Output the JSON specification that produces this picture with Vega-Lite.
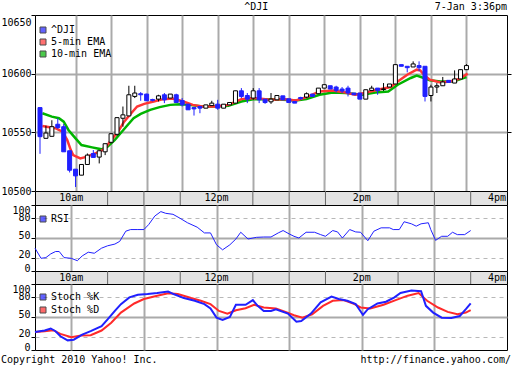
{
  "$schema": "https://vega.github.io/schema/vega-lite/v6.json",
  "padding": 0,
  "background": "white",
  "title": {"text": "^DJI", "anchor": "middle", "offset": -12, "font": "DejaVu Sans Mono", "fontSize": 10, "fontWeight": "normal", "color": "black"},
  "spacing": 0,
  "bounds": "flush",
  "datasets": {
    "candles": [
      {"m":0,"o":10571.1,"h":10571.1,"l":10531.7,"c":10546.3},
      {"m":5,"o":10544.9,"h":10555.7,"l":10544.9,"c":10549.4},
      {"m":10,"o":10546.6,"h":10560.3,"l":10546.6,"c":10554.8},
      {"m":15,"o":10556.9,"h":10562.0,"l":10552.9,"c":10554.0},
      {"m":20,"o":10554.8,"h":10557.1,"l":10533.4,"c":10533.4},
      {"m":25,"o":10534.3,"h":10534.3,"l":10515.8,"c":10517.7},
      {"m":30,"o":10518.6,"h":10518.6,"l":10503.4,"c":10512.9},
      {"m":35,"o":10513.5,"h":10522.6,"l":10513.5,"c":10522.6},
      {"m":40,"o":10522.6,"h":10532.0,"l":10522.6,"c":10530.6},
      {"m":45,"o":10532.0,"h":10534.9,"l":10528.6,"c":10528.6},
      {"m":50,"o":10528.9,"h":10534.3,"l":10523.5,"c":10534.3},
      {"m":55,"o":10533.4,"h":10540.3,"l":10530.6,"c":10540.3},
      {"m":60,"o":10541.5,"h":10549.5,"l":10540.5,"c":10548.8},
      {"m":65,"o":10548.3,"h":10563.0,"l":10547.0,"c":10562.5},
      {"m":70,"o":10562.0,"h":10572.0,"l":10554.8,"c":10564.9},
      {"m":75,"o":10564.0,"h":10589.7,"l":10564.0,"c":10582.0},
      {"m":80,"o":10580.6,"h":10589.7,"l":10579.2,"c":10583.5},
      {"m":85,"o":10582.9,"h":10584.3,"l":10576.9,"c":10582.0},
      {"m":90,"o":10582.6,"h":10582.9,"l":10576.9,"c":10576.9},
      {"m":95,"o":10578.0,"h":10578.6,"l":10576.3,"c":10577.2},
      {"m":100,"o":10578.3,"h":10582.0,"l":10576.3,"c":10581.1},
      {"m":105,"o":10582.0,"h":10583.5,"l":10574.9,"c":10577.7},
      {"m":110,"o":10579.2,"h":10582.6,"l":10579.2,"c":10582.6},
      {"m":115,"o":10582.0,"h":10582.9,"l":10575.4,"c":10575.4},
      {"m":120,"o":10577.1,"h":10579.2,"l":10572.0,"c":10573.4},
      {"m":125,"o":10574.0,"h":10574.3,"l":10569.2,"c":10569.2},
      {"m":130,"o":10571.1,"h":10571.1,"l":10564.3,"c":10570.0},
      {"m":135,"o":10572.0,"h":10572.6,"l":10566.3,"c":10570.6},
      {"m":140,"o":10570.6,"h":10573.4,"l":10570.6,"c":10573.4},
      {"m":145,"o":10572.8,"h":10576.9,"l":10572.8,"c":10574.9},
      {"m":150,"o":10574.0,"h":10577.7,"l":10569.2,"c":10570.6},
      {"m":155,"o":10570.6,"h":10574.0,"l":10570.6,"c":10574.0},
      {"m":160,"o":10573.4,"h":10575.4,"l":10573.4,"c":10575.4},
      {"m":165,"o":10574.9,"h":10585.4,"l":10574.9,"c":10585.4},
      {"m":170,"o":10585.4,"h":10587.7,"l":10579.2,"c":10580.6},
      {"m":175,"o":10581.4,"h":10583.5,"l":10574.9,"c":10578.3},
      {"m":180,"o":10579.2,"h":10587.7,"l":10577.7,"c":10585.4},
      {"m":185,"o":10585.4,"h":10587.7,"l":10574.9,"c":10577.7},
      {"m":190,"o":10578.3,"h":10578.3,"l":10574.3,"c":10575.4},
      {"m":195,"o":10576.0,"h":10583.5,"l":10574.3,"c":10578.3},
      {"m":200,"o":10577.7,"h":10581.4,"l":10577.7,"c":10581.4},
      {"m":205,"o":10581.1,"h":10581.1,"l":10577.7,"c":10577.7},
      {"m":210,"o":10578.6,"h":10578.6,"l":10575.4,"c":10575.4},
      {"m":215,"o":10576.3,"h":10576.3,"l":10574.9,"c":10574.9},
      {"m":220,"o":10579.7,"h":10580.3,"l":10577.7,"c":10578.6},
      {"m":225,"o":10580.0,"h":10584.0,"l":10579.2,"c":10582.9},
      {"m":230,"o":10582.6,"h":10582.6,"l":10580.6,"c":10580.6},
      {"m":235,"o":10582.9,"h":10587.7,"l":10582.9,"c":10587.7},
      {"m":240,"o":10587.7,"h":10590.6,"l":10587.7,"c":10590.6},
      {"m":245,"o":10589.7,"h":10589.7,"l":10586.9,"c":10586.9},
      {"m":250,"o":10588.6,"h":10589.7,"l":10584.0,"c":10585.7},
      {"m":255,"o":10586.9,"h":10588.6,"l":10583.5,"c":10585.2},
      {"m":260,"o":10587.7,"h":10589.7,"l":10580.6,"c":10583.5},
      {"m":265,"o":10583.5,"h":10583.5,"l":10582.0,"c":10582.0},
      {"m":270,"o":10583.5,"h":10583.5,"l":10578.3,"c":10578.3},
      {"m":275,"o":10578.3,"h":10586.3,"l":10578.3,"c":10586.3},
      {"m":280,"o":10585.7,"h":10589.7,"l":10585.7,"c":10587.7},
      {"m":285,"o":10587.7,"h":10587.7,"l":10582.0,"c":10585.7},
      {"m":290,"o":10586.5,"h":10592.0,"l":10585.3,"c":10587.0},
      {"m":295,"o":10588.6,"h":10591.2,"l":10588.6,"c":10591.2},
      {"m":300,"o":10591.2,"h":10607.7,"l":10591.2,"c":10607.7},
      {"m":305,"o":10607.7,"h":10607.7,"l":10606.3,"c":10606.3},
      {"m":310,"o":10606.3,"h":10606.3,"l":10601.1,"c":10605.1},
      {"m":315,"o":10605.7,"h":10610.5,"l":10605.7,"c":10608.3},
      {"m":320,"o":10606.9,"h":10610.5,"l":10602.0,"c":10605.1},
      {"m":325,"o":10606.3,"h":10606.3,"l":10576.3,"c":10580.6},
      {"m":330,"o":10581.4,"h":10590.6,"l":10576.3,"c":10588.6},
      {"m":335,"o":10588.6,"h":10592.0,"l":10583.5,"c":10589.7},
      {"m":340,"o":10589.7,"h":10597.2,"l":10589.7,"c":10592.9},
      {"m":345,"o":10594.3,"h":10594.3,"l":10592.5,"c":10592.5},
      {"m":350,"o":10592.0,"h":10602.8,"l":10592.0,"c":10595.5},
      {"m":355,"o":10595.5,"h":10603.4,"l":10595.5,"c":10603.4},
      {"m":360,"o":10603.4,"h":10608.1,"l":10603.4,"c":10606.9}
    ],
    "ema": [
      {"s":"10-min EMA","m":2,"p":10566.3},{"s":"10-min EMA","m":10,"p":10563.4},{"s":"10-min EMA","m":16,"p":10562.0},{"s":"10-min EMA","m":20,"p":10559.1},{"s":"10-min EMA","m":24,"p":10552.0},{"s":"10-min EMA","m":30,"p":10544.9},{"s":"10-min EMA","m":35,"p":10539.2},{"s":"10-min EMA","m":44,"p":10537.2},{"s":"10-min EMA","m":52,"p":10535.5},{"s":"10-min EMA","m":57,"p":10537.7},{"s":"10-min EMA","m":63,"p":10543.4},{"s":"10-min EMA","m":68,"p":10549.2},{"s":"10-min EMA","m":74,"p":10556.3},{"s":"10-min EMA","m":79,"p":10562.0},{"s":"10-min EMA","m":85,"p":10565.7},{"s":"10-min EMA","m":93,"p":10569.1},{"s":"10-min EMA","m":101,"p":10571.5},{"s":"10-min EMA","m":110,"p":10573.4},{"s":"10-min EMA","m":118,"p":10574.0},{"s":"10-min EMA","m":126,"p":10573.4},{"s":"10-min EMA","m":137,"p":10572.0},{"s":"10-min EMA","m":148,"p":10572.0},{"s":"10-min EMA","m":159,"p":10572.6},{"s":"10-min EMA","m":170,"p":10576.3},{"s":"10-min EMA","m":181,"p":10578.3},{"s":"10-min EMA","m":194,"p":10578.3},{"s":"10-min EMA","m":205,"p":10577.7},{"s":"10-min EMA","m":216,"p":10577.1},{"s":"10-min EMA","m":225,"p":10578.3},{"s":"10-min EMA","m":236,"p":10582.0},{"s":"10-min EMA","m":247,"p":10584.0},{"s":"10-min EMA","m":258,"p":10583.5},{"s":"10-min EMA","m":272,"p":10582.0},{"s":"10-min EMA","m":283,"p":10584.0},{"s":"10-min EMA","m":294,"p":10584.8},{"s":"10-min EMA","m":302,"p":10590.6},{"s":"10-min EMA","m":313,"p":10596.3},{"s":"10-min EMA","m":318,"p":10598.3},{"s":"10-min EMA","m":324,"p":10596.3},{"s":"10-min EMA","m":329,"p":10594.3},{"s":"10-min EMA","m":338,"p":10593.4},{"s":"10-min EMA","m":349,"p":10593.4},{"s":"10-min EMA","m":360,"p":10597.2},
      {"s":"5-min EMA","m":2,"p":10555.4},{"s":"5-min EMA","m":13,"p":10553.5},{"s":"5-min EMA","m":19,"p":10550.6},{"s":"5-min EMA","m":23,"p":10543.4},{"s":"5-min EMA","m":26,"p":10534.9},{"s":"5-min EMA","m":28,"p":10530.6},{"s":"5-min EMA","m":34,"p":10527.8},{"s":"5-min EMA","m":39,"p":10529.1},{"s":"5-min EMA","m":45,"p":10531.4},{"s":"5-min EMA","m":50,"p":10533.4},{"s":"5-min EMA","m":55,"p":10536.3},{"s":"5-min EMA","m":60,"p":10543.4},{"s":"5-min EMA","m":66,"p":10550.6},{"s":"5-min EMA","m":71,"p":10559.1},{"s":"5-min EMA","m":77,"p":10566.3},{"s":"5-min EMA","m":82,"p":10572.0},{"s":"5-min EMA","m":88,"p":10574.3},{"s":"5-min EMA","m":96,"p":10576.3},{"s":"5-min EMA","m":104,"p":10578.3},{"s":"5-min EMA","m":112,"p":10578.8},{"s":"5-min EMA","m":121,"p":10576.3},{"s":"5-min EMA","m":129,"p":10573.4},{"s":"5-min EMA","m":137,"p":10572.0},{"s":"5-min EMA","m":148,"p":10572.0},{"s":"5-min EMA","m":159,"p":10573.4},{"s":"5-min EMA","m":170,"p":10578.3},{"s":"5-min EMA","m":181,"p":10579.2},{"s":"5-min EMA","m":194,"p":10577.7},{"s":"5-min EMA","m":205,"p":10578.3},{"s":"5-min EMA","m":216,"p":10577.1},{"s":"5-min EMA","m":225,"p":10580.0},{"s":"5-min EMA","m":236,"p":10584.8},{"s":"5-min EMA","m":247,"p":10585.7},{"s":"5-min EMA","m":258,"p":10584.0},{"s":"5-min EMA","m":266,"p":10582.0},{"s":"5-min EMA","m":274,"p":10583.5},{"s":"5-min EMA","m":285,"p":10586.3},{"s":"5-min EMA","m":296,"p":10588.6},{"s":"5-min EMA","m":302,"p":10593.4},{"s":"5-min EMA","m":310,"p":10599.1},{"s":"5-min EMA","m":318,"p":10603.4},{"s":"5-min EMA","m":321,"p":10602.8},{"s":"5-min EMA","m":324,"p":10599.1},{"s":"5-min EMA","m":329,"p":10594.9},{"s":"5-min EMA","m":338,"p":10592.5},{"s":"5-min EMA","m":346,"p":10593.4},{"s":"5-min EMA","m":354,"p":10595.5},{"s":"5-min EMA","m":361,"p":10600.0}
    ],
    "rsi": [
      {"m":0,"v":34.6},{"m":5,"v":19.2},{"m":9,"v":20.3},{"m":13,"v":25.9},{"m":17,"v":29.5},{"m":20,"v":29.5},{"m":24,"v":20.3},{"m":30,"v":19.2},{"m":35,"v":15.6},{"m":39,"v":22.8},{"m":44,"v":28.5},{"m":49,"v":26.9},{"m":55,"v":34.6},{"m":60,"v":38.2},{"m":66,"v":40.8},{"m":70,"v":44.9},{"m":75,"v":60.3},{"m":79,"v":62.8},{"m":85,"v":62.8},{"m":90,"v":62.8},{"m":94,"v":70.5},{"m":99,"v":83.3},{"m":104,"v":90},{"m":108,"v":87.4},{"m":114,"v":85.9},{"m":119,"v":80.8},{"m":126,"v":73.1},{"m":134,"v":66.4},{"m":140,"v":57.7},{"m":145,"v":57.7},{"m":150,"v":39.7},{"m":155,"v":32.1},{"m":161,"v":39.7},{"m":166,"v":48.5},{"m":170,"v":58.7},{"m":176,"v":48.5},{"m":183,"v":51},{"m":189,"v":51.5},{"m":195,"v":51.5},{"m":201,"v":57.7},{"m":205,"v":61.3},{"m":210,"v":56.2},{"m":214,"v":52.6},{"m":218,"v":50},{"m":224,"v":58.7},{"m":231,"v":58.7},{"m":236,"v":55.1},{"m":240,"v":52.6},{"m":246,"v":61.3},{"m":250,"v":59.2},{"m":254,"v":50},{"m":260,"v":62.8},{"m":265,"v":59.2},{"m":269,"v":58.7},{"m":275,"v":45.9},{"m":280,"v":60.3},{"m":286,"v":65.4},{"m":293,"v":65.4},{"m":296,"v":62.8},{"m":301,"v":62.8},{"m":305,"v":74.6},{"m":311,"v":71.5},{"m":315,"v":67.9},{"m":319,"v":71.5},{"m":325,"v":73.1},{"m":327,"v":62.8},{"m":331,"v":46.4},{"m":336,"v":52.6},{"m":341,"v":52.6},{"m":345,"v":58.7},{"m":349,"v":55.1},{"m":355,"v":55.1},{"m":360,"v":61.3}
    ],
    "stoch": [
      {"s":"%D","m":0,"v":27.4},{"s":"%D","m":8,"v":28.5},{"s":"%D","m":15,"v":30},{"s":"%D","m":21,"v":24.4},{"s":"%D","m":30,"v":19.2},{"s":"%D","m":38,"v":21.8},{"s":"%D","m":46,"v":22.3},{"s":"%D","m":55,"v":29.5},{"s":"%D","m":63,"v":41.3},{"s":"%D","m":71,"v":56.7},{"s":"%D","m":82,"v":70.5},{"s":"%D","m":90,"v":77.2},{"s":"%D","m":101,"v":82.3},{"s":"%D","m":110,"v":85.9},{"s":"%D","m":118,"v":84.9},{"s":"%D","m":129,"v":78.7},{"s":"%D","m":137,"v":74.6},{"s":"%D","m":145,"v":69.5},{"s":"%D","m":152,"v":59.2},{"s":"%D","m":159,"v":55.1},{"s":"%D","m":166,"v":60.3},{"s":"%D","m":174,"v":63.3},{"s":"%D","m":181,"v":68.5},{"s":"%D","m":189,"v":64.4},{"s":"%D","m":199,"v":62.8},{"s":"%D","m":207,"v":57.7},{"s":"%D","m":214,"v":52.6},{"s":"%D","m":221,"v":49},{"s":"%D","m":229,"v":54.1},{"s":"%D","m":238,"v":66.9},{"s":"%D","m":246,"v":74.6},{"s":"%D","m":255,"v":75.6},{"s":"%D","m":264,"v":69.5},{"s":"%D","m":269,"v":64.4},{"s":"%D","m":277,"v":62.8},{"s":"%D","m":288,"v":68.5},{"s":"%D","m":298,"v":75.6},{"s":"%D","m":308,"v":82.3},{"s":"%D","m":317,"v":86.4},{"s":"%D","m":324,"v":74.6},{"s":"%D","m":333,"v":64.4},{"s":"%D","m":341,"v":57.7},{"s":"%D","m":349,"v":54.1},{"s":"%D","m":356,"v":56.7},{"s":"%D","m":360,"v":60.3},
      {"s":"%K","m":0,"v":27.4},{"s":"%K","m":8,"v":29.5},{"s":"%K","m":13,"v":32.6},{"s":"%K","m":17,"v":28.5},{"s":"%K","m":21,"v":20.8},{"s":"%K","m":27,"v":14.6},{"s":"%K","m":32,"v":15.6},{"s":"%K","m":39,"v":23.3},{"s":"%K","m":46,"v":28.5},{"s":"%K","m":55,"v":36.2},{"s":"%K","m":60,"v":46.4},{"s":"%K","m":66,"v":59.2},{"s":"%K","m":71,"v":69.5},{"s":"%K","m":78,"v":79.7},{"s":"%K","m":85,"v":83.8},{"s":"%K","m":93,"v":84.9},{"s":"%K","m":101,"v":86.4},{"s":"%K","m":110,"v":88.5},{"s":"%K","m":115,"v":84.4},{"s":"%K","m":123,"v":78.7},{"s":"%K","m":132,"v":74.6},{"s":"%K","m":140,"v":69.5},{"s":"%K","m":145,"v":62.8},{"s":"%K","m":150,"v":49},{"s":"%K","m":155,"v":45.4},{"s":"%K","m":161,"v":50},{"s":"%K","m":166,"v":68.5},{"s":"%K","m":174,"v":68.5},{"s":"%K","m":180,"v":75.6},{"s":"%K","m":184,"v":66.9},{"s":"%K","m":189,"v":59.2},{"s":"%K","m":195,"v":59.2},{"s":"%K","m":199,"v":61.8},{"s":"%K","m":209,"v":55.1},{"s":"%K","m":216,"v":42.8},{"s":"%K","m":220,"v":43.8},{"s":"%K","m":228,"v":55.1},{"s":"%K","m":236,"v":72.1},{"s":"%K","m":245,"v":80.8},{"s":"%K","m":251,"v":77.2},{"s":"%K","m":258,"v":74.6},{"s":"%K","m":265,"v":69.5},{"s":"%K","m":271,"v":53.1},{"s":"%K","m":275,"v":61.8},{"s":"%K","m":283,"v":70.5},{"s":"%K","m":290,"v":73.1},{"s":"%K","m":297,"v":79.7},{"s":"%K","m":302,"v":86.4},{"s":"%K","m":311,"v":90},{"s":"%K","m":319,"v":89},{"s":"%K","m":323,"v":66.9},{"s":"%K","m":329,"v":56.7},{"s":"%K","m":336,"v":49},{"s":"%K","m":344,"v":48.5},{"s":"%K","m":351,"v":51.5},{"s":"%K","m":356,"v":61.8},{"s":"%K","m":360,"v":70.5}
    ],
    "bandTicks": [{"m":60},{"m":90},{"m":120},{"m":180},{"m":210},{"m":240},{"m":300},{"m":330},{"m":360}],
    "bandLabels": [{"m":30,"lab":"10am"},{"m":150,"lab":"12pm"},{"m":270,"lab":"2pm"}],
    "bandEnd": [{"m":390,"lab":"4pm"}]
  },
  "vconcat": [
    {
      "width": 472, "height": 15,
      "view": {"stroke": null},
      "data": {"values": [{"m": 390, "txt": "7-Jan 3:36pm"}]},
      "mark": {"type": "text", "align": "right", "baseline": "middle", "dy": -1, "font": "DejaVu Sans Mono", "fontSize": 10},
      "encoding": {
        "x": {"field": "m", "type": "quantitative", "scale": {"domain": [0, 390], "nice": false, "zero": false}, "axis": null},
        "text": {"field": "txt"}
      }
    },
    {
      "width": 472, "height": 176,
      "resolve": {"axis": {"y": "independent"}},
      "layer": [
        {
          "data": {"name": "ema"},
          "mark": {"type": "line", "strokeWidth": 2.5},
          "encoding": {
            "x": {"field": "m", "type": "quantitative", "scale": {"domain": [0, 390], "nice": false, "zero": false},
                  "axis": {"values": [30,60,90,120,150,180,210,240,270,300,330,360], "grid": true, "gridColor": "#aaaaaa", "gridWidth": 2, "labels": false, "ticks": false, "domain": false, "title": null}},
            "y": {"field": "p", "type": "quantitative", "scale": {"domain": [10500, 10650], "nice": false, "zero": false},
                  "axis": {"orient": "left", "values": [10500, 10550, 10600, 10650], "format": "d", "grid": false, "labelPadding": 0, "labelOverlap": false,
                           "labelBaseline": {"condition": {"test": "datum.value == 10650", "value": "top"}, "value": "middle"},
                           "labelOffset": {"condition": {"test": "datum.value == 10650", "value": 2}, "value": 0}, "title": null}},
            "stroke": {"field": "s", "type": "nominal", "scale": {"domain": ["5-min EMA", "10-min EMA"], "range": ["#ff3434", "#00b400"]}, "legend": null}
          }
        },
        {
          "data": {"name": "candles"},
          "mark": {"type": "rule", "strokeWidth": 1},
          "encoding": {
            "x": {"field": "m", "type": "quantitative"},
            "y": {"field": "l", "type": "quantitative",
                  "axis": {"orient": "right", "values": [10550, 10600], "grid": true, "gridColor": "#aaaaaa", "gridWidth": 2, "labels": false, "ticks": true, "title": null}},
            "y2": {"field": "h"},
            "color": {"condition": {"test": "datum.c < datum.o", "value": "#2020ff"}, "value": "black"}
          }
        },
        {
          "data": {"name": "candles"},
          "mark": {"type": "bar", "size": 4, "strokeWidth": 1},
          "encoding": {
            "x": {"field": "m", "type": "quantitative"},
            "y": {"field": "o", "type": "quantitative", "axis": null},
            "y2": {"field": "c"},
            "fill": {"condition": {"test": "datum.c < datum.o", "value": "#2020ff"}, "value": "white"},
            "stroke": {"condition": {"test": "datum.c < datum.o", "value": "#2020ff"}, "value": "black"}
          }
        },
        {
          "data": {"values": []},
          "mark": "square",
          "encoding": {
            "fill": {"field": "series", "type": "nominal",
                     "scale": {"domain": ["^DJI", "5-min EMA", "10-min EMA"], "range": ["#2020ff", "#ff3434", "#00b400"]},
                     "legend": {"orient": "none", "legendX": 3, "legendY": 10, "rowPadding": 2, "title": null}}
          }
        }
      ]
    },
    {
      "width": 472, "height": 14,
      "view": {"fill": "#e3e3e3", "stroke": "black"},
      "layer": [
        {
          "data": {"name": "bandTicks"},
          "mark": {"type": "rule", "color": "#666666"},
          "encoding": {"x": {"field": "m", "type": "quantitative", "scale": {"domain": [0, 390], "nice": false, "zero": false}, "axis": null}}
        },
        {
          "data": {"name": "bandLabels"},
          "mark": {"type": "text", "align": "center", "baseline": "middle", "font": "DejaVu Sans Mono", "fontSize": 10},
          "encoding": {"x": {"field": "m", "type": "quantitative"}, "text": {"field": "lab"}}
        },
        {
          "data": {"name": "bandEnd"},
          "mark": {"type": "text", "align": "right", "baseline": "middle", "dx": -1, "font": "DejaVu Sans Mono", "fontSize": 10},
          "encoding": {"x": {"field": "m", "type": "quantitative"}, "text": {"field": "lab"}}
        }
      ]
    },
    {
      "width": 472, "height": 66,
      "layer": [
        {
          "data": {"name": "rsi"},
          "mark": {"type": "line", "strokeWidth": 1, "color": "#2020ff"},
          "encoding": {
            "x": {"field": "m", "type": "quantitative", "scale": {"domain": [0, 390], "nice": false, "zero": false},
                  "axis": {"values": [30,90,150,210,270,330], "grid": true, "gridColor": "#aaaaaa", "gridWidth": 2, "labels": false, "ticks": false, "domain": false, "title": null}},
            "y": {"field": "v", "type": "quantitative", "scale": {"domain": [0, 100], "nice": false},
                  "axis": {"values": [0, 20, 50, 80, 100], "grid": true, "labelOverlap": false, "labelPadding": 1,
                           "gridColor": {"condition": {"test": "datum.value == 50", "value": "#aaaaaa"}, "value": "#b8b8b8"},
                           "gridWidth": {"condition": {"test": "datum.value == 50", "value": 2}, "value": 1},
                           "gridDash": {"condition": {"test": "datum.value == 50", "value": []}, "value": [4, 4]},
                           "gridOpacity": {"condition": {"test": "datum.value == 0 || datum.value == 100", "value": 0}, "value": 1},
                           "labelBaseline": {"condition": {"test": "datum.value == 100", "value": "top"}, "value": {"expr": "datum.value == 0 ? 'alphabetic' : 'middle'"}},
                           "labelOffset": {"condition": {"test": "datum.value == 80", "value": 2}, "value": 0},
                           "title": null}}
          }
        },
        {
          "data": {"values": []},
          "mark": "square",
          "encoding": {
            "fill": {"field": "rsiSeries", "type": "nominal", "scale": {"domain": ["RSI"], "range": ["#2020ff"]},
                     "legend": {"orient": "none", "legendX": 3, "legendY": 9, "title": null}}
          }
        }
      ]
    },
    {
      "width": 472, "height": 13,
      "view": {"fill": "#e3e3e3", "stroke": "black"},
      "layer": [
        {
          "data": {"name": "bandTicks"},
          "mark": {"type": "rule", "color": "#666666"},
          "encoding": {"x": {"field": "m", "type": "quantitative", "scale": {"domain": [0, 390], "nice": false, "zero": false}, "axis": null}}
        },
        {
          "data": {"name": "bandLabels"},
          "mark": {"type": "text", "align": "center", "baseline": "middle", "font": "DejaVu Sans Mono", "fontSize": 10},
          "encoding": {"x": {"field": "m", "type": "quantitative"}, "text": {"field": "lab"}}
        },
        {
          "data": {"name": "bandEnd"},
          "mark": {"type": "text", "align": "right", "baseline": "middle", "dx": -1, "font": "DejaVu Sans Mono", "fontSize": 10},
          "encoding": {"x": {"field": "m", "type": "quantitative"}, "text": {"field": "lab"}}
        }
      ]
    },
    {
      "width": 472, "height": 66,
      "layer": [
        {
          "data": {"name": "stoch"},
          "mark": {"type": "line", "strokeWidth": 2},
          "encoding": {
            "x": {"field": "m", "type": "quantitative", "scale": {"domain": [0, 390], "nice": false, "zero": false},
                  "axis": {"values": [30,90,150,210,270,330], "grid": true, "gridColor": "#aaaaaa", "gridWidth": 2, "labels": false, "ticks": false, "domain": false, "title": null}},
            "y": {"field": "v", "type": "quantitative", "scale": {"domain": [0, 100], "nice": false},
                  "axis": {"values": [0, 20, 50, 80, 100], "grid": true, "labelOverlap": false, "labelPadding": 1,
                           "gridColor": {"condition": {"test": "datum.value == 50", "value": "#aaaaaa"}, "value": "#b8b8b8"},
                           "gridWidth": {"condition": {"test": "datum.value == 50", "value": 2}, "value": 1},
                           "gridDash": {"condition": {"test": "datum.value == 50", "value": []}, "value": [4, 4]},
                           "gridOpacity": {"condition": {"test": "datum.value == 0 || datum.value == 100", "value": 0}, "value": 1},
                           "labelBaseline": {"condition": {"test": "datum.value == 100", "value": "top"}, "value": {"expr": "datum.value == 0 ? 'alphabetic' : 'middle'"}},
                           "labelOffset": {"condition": {"test": "datum.value == 80", "value": 2}, "value": 0},
                           "title": null}},
            "stroke": {"field": "s", "type": "nominal", "scale": {"domain": ["%K", "%D"], "range": ["#2020ff", "#ff2a2a"]}, "legend": null}
          }
        },
        {
          "data": {"values": []},
          "mark": "square",
          "encoding": {
            "fill": {"field": "stochSeries", "type": "nominal", "scale": {"domain": ["Stoch %K", "Stoch %D"], "range": ["#2020ff", "#ff2a2a"]},
                     "legend": {"orient": "none", "legendX": 3, "legendY": 8, "rowPadding": 3, "title": null}}
          }
        }
      ]
    },
    {
      "width": 472, "height": 15,
      "view": {"stroke": null},
      "layer": [
        {
          "data": {"values": [{"m": 0, "txt": "Copyright 2010 Yahoo! Inc."}]},
          "mark": {"type": "text", "align": "left", "baseline": "middle", "dx": -34, "dy": 2.5, "font": "DejaVu Sans Mono", "fontSize": 10},
          "encoding": {
            "x": {"field": "m", "type": "quantitative", "scale": {"domain": [0, 390], "nice": false, "zero": false}, "axis": null},
            "text": {"field": "txt"}
          }
        },
        {
          "data": {"values": [{"m": 390, "txt": "http://finance.yahoo.com/"}]},
          "mark": {"type": "text", "align": "right", "baseline": "middle", "dx": 4, "dy": 2.5, "font": "DejaVu Sans Mono", "fontSize": 10},
          "encoding": {
            "x": {"field": "m", "type": "quantitative", "axis": null},
            "text": {"field": "txt"}
          }
        }
      ]
    }
  ],
  "resolve": {"scale": {"fill": "independent", "stroke": "independent", "x": "independent", "y": "independent"}, "legend": {"fill": "independent", "stroke": "independent"}},
  "config": {
    "font": "DejaVu Sans Mono",
    "view": {"stroke": "black", "strokeWidth": 1},
    "axis": {"labelFont": "DejaVu Sans Mono", "labelFontSize": 10, "labelColor": "black", "tickColor": "black", "tickSize": 4, "tickWidth": 1, "domain": false, "title": null},
    "legend": {"symbolType": "square", "symbolSize": 36, "symbolStrokeColor": "black", "symbolStrokeWidth": 1, "symbolOffset": 0,
               "labelFont": "DejaVu Sans Mono", "labelFontSize": 10, "labelColor": "black", "labelOffset": 3, "rowPadding": 3, "padding": 0}
  }
}
